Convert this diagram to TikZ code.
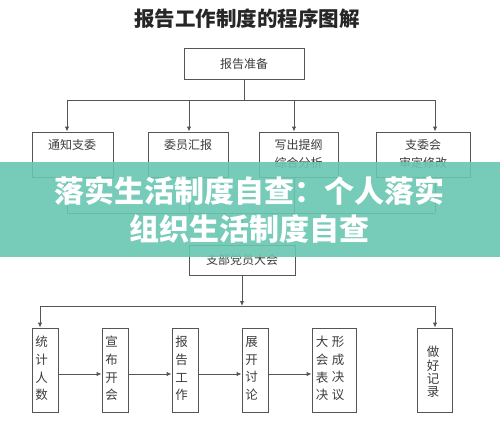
\documentclass[tikz,border=0pt]{standalone}
\usepackage{fontspec}
\newfontfamily\cjk{Noto Sans CJK SC}
\usetikzlibrary{arrows.meta}
\definecolor{linec}{RGB}{85,85,85}
\definecolor{textc}{RGB}{60,60,60}
\definecolor{banner}{RGB}{104,198,178}
\tikzset{
  box/.style={draw=linec, line width=0.9pt, inner sep=0pt, fill=white},
  ln/.style={draw=linec, line width=0.9pt},
  arr/.style={ln, -{Latex[length=5pt,width=4.5pt]}},
  lbl/.style={inner sep=0pt, text=textc, align=center, font=\cjk\fontsize{12}{18}\selectfont},
  vlbl/.style={inner sep=0pt, text=textc, align=center, font=\cjk\fontsize{12.5}{17.7}\selectfont},
  vlbls/.style={inner sep=0pt, text=textc, align=center, font=\cjk\fontsize{12.5}{13.4}\selectfont},
}
\begin{document}
\begin{tikzpicture}[x=1pt,y=-1pt]
\useasboundingbox (0,0) rectangle (500,420);
\fill[white] (0,0) rectangle (500,420);
% title
\node[inner sep=0pt, text=black!85, font=\cjk\bfseries\fontsize{20.5}{22}\selectfont] (title) at (247,18.5) {报告工作制度的程序图解};
% top box
\node[box, minimum width=120pt, minimum height=31pt] (prep) at (244,63.5) {};
\node[lbl] (prepl) at (prep) {报告准备};
% row 2 boxes
\node[box, minimum width=81pt, minimum height=45pt] (b1) at (72.5,154.5) {};
\node[box, minimum width=80pt, minimum height=45pt] (b2) at (188,154.5) {};
\node[box, minimum width=79pt, minimum height=45pt] (b3) at (298.5,154.5) {};
\node[box, minimum width=94pt, minimum height=45pt] (b4) at (423,154.5) {};
\node[lbl] (b1l) at (72,145) {通知支委};
\node[lbl] (b2l) at (188,145) {委员汇报};
\node[lbl] (b3l) at (298.5,154) {写出提纲\\综合分析};
\node[lbl] (b4l) at (423,154) {支委会\\审定修改};
% bus 1
\coordinate (t1) at (67,100);
\coordinate (t2) at (189,100);
\coordinate (t3) at (294,100);
\coordinate (t4) at (435,100);
\draw[ln] (prep.south) -- (prep.south |- t1);
\draw[ln] (t1) -- (t4);
\draw[arr] (t1) -- (t1 |- b1.north);
\draw[arr] (t2) -- (t2 |- b2.north);
\draw[arr] (t3) -- (t3 |- b3.north);
\draw[arr] (t4) -- (t4 |- b4.north);
% bus 2
\coordinate (u1) at (67,213);
\coordinate (u2) at (189,213);
\coordinate (u3) at (294,213);
\coordinate (u4) at (435,213);
\coordinate (um) at (242,213);
\draw[ln] (t1 |- b1.south) -- (u1);
\draw[ln] (t2 |- b2.south) -- (u2);
\draw[ln] (t3 |- b3.south) -- (u3);
\draw[ln] (t4 |- b4.south) -- (u4);
\draw[ln] (u1) -- (u4);
% meeting box
\node[box, minimum width=106pt, minimum height=30pt] (meet) at (242,260) {};
\node[lbl] (meetl) at (meet) {支部党员大会};
\draw[arr] (um) -- (meet.north);
% bus 3
\coordinate (v1) at (40,306);
\coordinate (v6) at (435,306);
\draw[arr] (meet.south) -- (meet.south |- v1);
\draw[ln] (v1) -- (v6);
% bottom boxes
\node[box, minimum width=26pt, minimum height=84pt] (c1) at (45,370) {};
\node[box, minimum width=26pt, minimum height=84pt] (c2) at (115,370) {};
\node[box, minimum width=26pt, minimum height=84pt] (c3) at (185,370) {};
\node[box, minimum width=26pt, minimum height=84pt] (c4) at (255,370) {};
\node[box, minimum width=44pt, minimum height=84pt] (c5) at (334,370) {};
\node[box, minimum width=35pt, minimum height=84pt] (c6) at (434.5,370) {};
\draw[arr] (v1) -- (v1 |- c1.north);
\draw[arr] (v6) -- (v6 |- c6.north);
\draw[arr] ([yshift=-4pt]c1.east) -- ([yshift=-4pt]c2.west);
\draw[arr] ([yshift=-4pt]c2.east) -- ([yshift=-4pt]c3.west);
\draw[arr] ([yshift=-4pt]c3.east) -- ([yshift=-4pt]c4.west);
\draw[arr] ([yshift=-4pt]c4.east) -- ([yshift=-4pt]c5.west);
\node[vlbl] (c1l) at (41.5,368.5) {统\\计\\人\\数};
\node[vlbl] (c2l) at (111.5,368.5) {宣\\布\\开\\会};
\node[vlbl] (c3l) at (181.5,368.5) {报\\告\\工\\作};
\node[vlbl] (c4l) at (251.5,368.5) {展\\开\\讨\\论};
\node[vlbl] (c5a) at (322,368.5) {大\\会\\表\\决};
\node[vlbl] (c5b) at (338,368.5) {形\\成\\决\\议};
\node[vlbls] (c6l) at (433,372) {做\\好\\记\\录};
% banner
\fill[banner, opacity=0.9] (0,162) rectangle (500,257);
\node[inner sep=0pt, text=white, font=\cjk\bfseries\fontsize{30}{38}\selectfont, align=center] (ban) at (249,210) {落实生活制度自查：个人落实\\组织生活制度自查};
\end{tikzpicture}
\end{document}
